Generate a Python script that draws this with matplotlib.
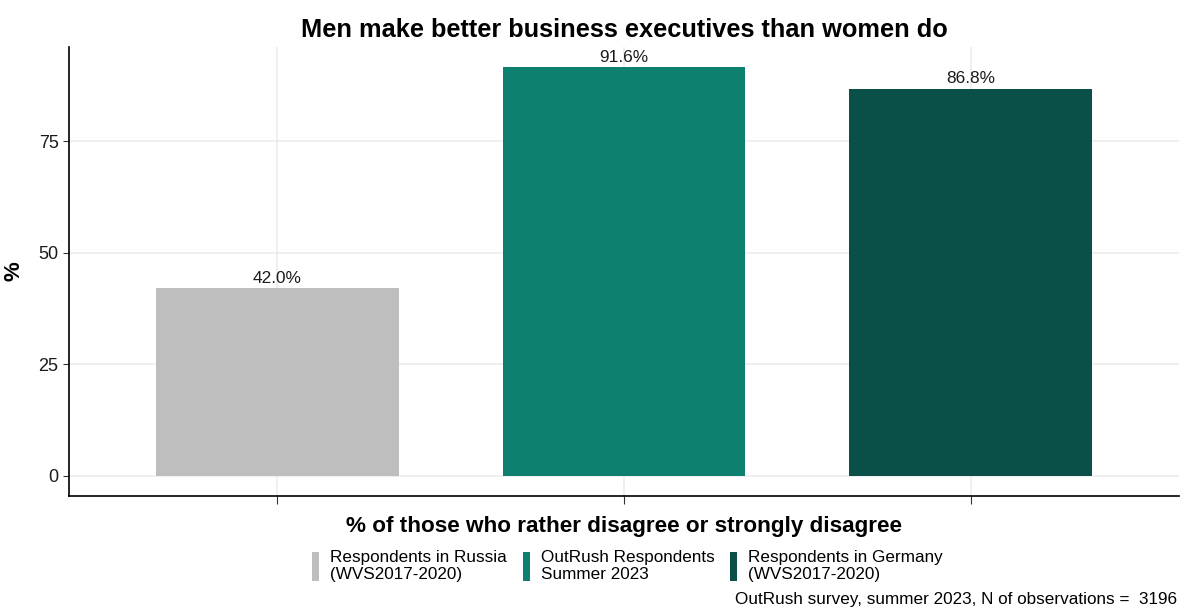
import matplotlib
matplotlib.use("Agg")
import matplotlib.pyplot as plt
from matplotlib.patches import Patch

plt.rcParams['font.family'] = ['Liberation Sans', 'DejaVu Sans']

groups = ["Respondents in Russia\n(WVS2017-2020)",
          "OutRush Respondents\nSummer 2023",
          "Respondents in Germany\n(WVS2017-2020)"]
values = [42.0, 91.6, 86.8]
colors = ["#BEBEBE", "#0E8070", "#0A5048"]

fig = plt.figure(figsize=(11.84, 6.09), dpi=100)
ax = fig.add_axes([0.0583, 0.1856, 0.9375, 0.7372])

x = list(range(1, len(values) + 1))
ax.bar(x, values, width=0.7, color=colors, zorder=2)
for xi, v in zip(x, values):
    ax.text(xi, v + 0.6, f"{v:.1f}%", ha="center", va="bottom", fontsize=12.4, color="#1a1a1a")

ax.set_xlim(0.4, 3.6)
ax.set_ylim(-4.58, 96.18)
ax.set_yticks([0, 25, 50, 75])
ax.set_xticks(x)
ax.set_xticklabels([])
ax.tick_params(axis="y", labelsize=13, labelcolor="#1a1a1a", length=4, color="#333333")
ax.tick_params(axis="x", length=6, color="#333333")
ax.grid(True, color="#EBEBEB", linewidth=1.1, zorder=0)
ax.set_axisbelow(True)
for s in ["top", "right"]:
    ax.spines[s].set_visible(False)
for s in ["left", "bottom"]:
    ax.spines[s].set_linewidth(1.2)

ax.set_ylabel("%", fontsize=16, fontweight="bold", labelpad=10)
ax.set_xlabel("% of those who rather disagree or strongly disagree",
              fontsize=16.2, fontweight="bold", labelpad=5)
ax.set_title("Men make better business executives than women do",
             fontsize=18.3, fontweight="bold", pad=7)

handles = [Patch(facecolor=c, edgecolor="none") for c in colors]
fig.legend(handles, groups, loc="center", bbox_to_anchor=(0.530, 0.071),
           ncol=3, frameon=False, fontsize=12.3, handlelength=0.42,
           handleheight=2.3, handletextpad=0.65, columnspacing=0.9,
           labelspacing=0.2)

fig.text(0.994, 0.004, "OutRush survey, summer 2023, N of observations =  3196",
         ha="right", va="bottom", fontsize=12.3)

fig.savefig("out.png", dpi=100)
